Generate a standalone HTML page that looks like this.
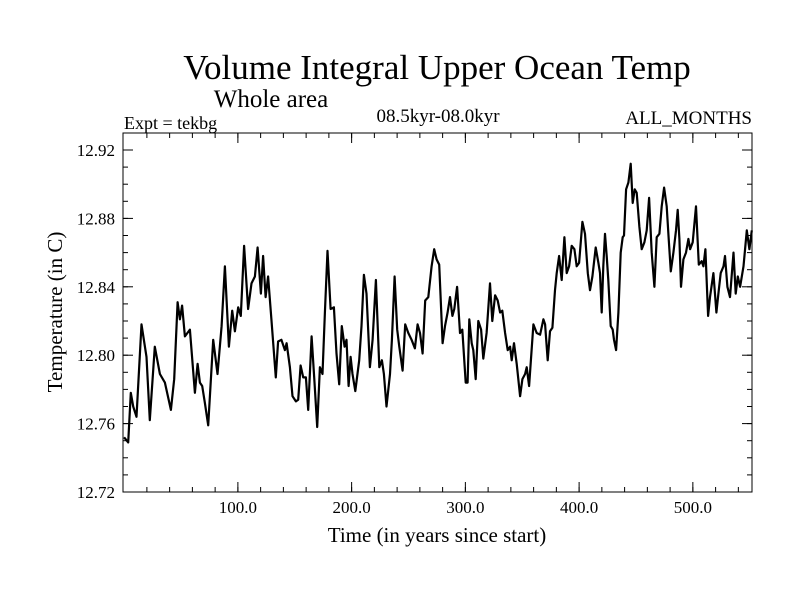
<!DOCTYPE html>
<html><head><meta charset="utf-8"><style>
body{margin:0;background:#fff}
svg{display:block}
text{font-family:"Liberation Serif",serif;fill:#000}
</style></head><body>
<svg id="chart" width="800" height="600">
<text x="437" y="79" font-size="35" text-anchor="middle">Volume Integral Upper Ocean Temp</text>
<text x="271" y="107" font-size="25" text-anchor="middle">Whole area</text>
<text x="124" y="129" font-size="18">Expt = tekbg</text>
<text x="438" y="122" font-size="19" text-anchor="middle">08.5kyr-08.0kyr</text>
<text x="752" y="124" font-size="19" text-anchor="end">ALL_MONTHS</text>
<text x="437" y="542" font-size="21" text-anchor="middle">Time (in years since start)</text>
<text x="0" y="0" font-size="21" text-anchor="middle" transform="translate(62,312) rotate(-90)">Temperature (in C)</text>
<rect x="123" y="133" width="629" height="359" fill="none" stroke="#000" stroke-width="1"/>
<g id="ticks"></g>
<path id="series" fill="none" stroke="#000" stroke-width="2.2" stroke-linejoin="round"/>
</svg>
<script>
const years = [0,3.6,5.9,8,10.9,15.3,19.7,22.6,27,31.4,35.8,41.1,44,47,49,51,53.4,57.8,62.2,64.6,66.6,68.6,71,73.9,78.3,82.1,85.7,88.6,92.1,95,97.4,100.3,102.6,105.5,109,112,115,117.3,120.2,122.2,124.4,126.6,129.5,133.3,135.4,138.3,141.3,
142.8,145.7,148,151,153,155.1,157.4,159.8,161.8,164.8,167.1,169.7,172.1,174.4,176.5,178.8,181.5,184.4,186.7,189.1,191.4,193.8,195.5,197.3,199.1,200.8,203.2,206.7,208.7,210.8,213.1,216.1,218.4,221.3,224.3,226.6,228.4,230.7,233.7,235.4,237.8,240.1,241.9,244.8,247.1,249.8,252.7,255.6,258,260.1,262.4,264.7,267.4,270.3,272.6,274.7,277,280,
282.1,284.4,286.5,288.6,290.3,292.7,295.3,297.3,300.3,302,303.5,305.6,307,309.1,311.4,313.8,315.8,318.7,321.7,323.7,326.1,328.4,330.5,332.5,334.9,337.2,339.3,340.7,342.8,345.1,348.1,350.1,352.5,353.9,356,359.8,362.7,365.7,368.6,370.1,372.4,374.4,376.5,378.8,380.3,382.4,384.7,387.1,389.1,391.2,393.5,395.9,397.9,400,402.9,405.2,407.6,409.6,411.7,414.6,417,
418.4,419.9,421.3,422.8,424.3,425.7,427.8,429.5,430.7,432.5,434.5,436.6,438.3,439.5,441.3,443.3,445.4,447.1,448.9,450.6,453,455,457.4,459.4,461.5,463.8,466.2,468.2,470.6,472.6,474.7,477,478.8,480.6,482.9,485.2,486.7,488.2,489.6,491.7,494,496.1,497.6,499.9,502.8,505.2,507.8,509.3,511,513.4,515.1,518.1,520.7,522.5,524.5,526.9,528.3,530.4,532.7,535.7,537.7,539.5,541.5,544.5,547.4,549.7,551.8];
const temps = [12.752,12.749,12.778,12.770,12.764,12.818,12.799,12.762,12.805,12.789,12.784,12.768,12.786,12.831,12.821,12.829,12.811,12.815,12.778,12.795,12.784,12.782,12.772,12.759,12.809,12.789,12.817,12.852,12.805,12.826,12.814,12.828,12.823,12.864,12.827,12.842,12.846,12.863,12.836,12.858,12.834,12.846,12.821,12.787,12.808,12.809,12.803,
12.807,12.793,12.776,12.773,12.774,12.794,12.787,12.787,12.768,12.811,12.787,12.758,12.793,12.789,12.825,12.861,12.827,12.828,12.801,12.783,12.817,12.805,12.809,12.782,12.799,12.789,12.779,12.797,12.817,12.847,12.836,12.793,12.809,12.844,12.793,12.797,12.789,12.770,12.789,12.809,12.846,12.815,12.805,12.791,12.818,12.813,12.809,12.804,12.818,12.813,12.801,12.832,12.834,12.852,12.862,12.856,12.853,12.807,
12.817,12.825,12.834,12.823,12.827,12.840,12.813,12.815,12.784,12.784,12.821,12.807,12.803,12.786,12.820,12.815,12.798,12.813,12.842,12.820,12.835,12.832,12.825,12.826,12.813,12.803,12.805,12.797,12.807,12.795,12.776,12.786,12.789,12.793,12.782,12.818,12.813,12.812,12.821,12.818,12.797,12.814,12.816,12.838,12.848,12.858,12.844,12.869,12.848,12.852,12.864,12.862,12.852,12.854,12.878,12.871,12.848,12.838,12.846,12.863,12.854,
12.848,12.825,12.852,12.871,12.858,12.844,12.817,12.815,12.809,12.803,12.825,12.860,12.869,12.870,12.897,12.901,12.912,12.889,12.897,12.895,12.875,12.862,12.866,12.873,12.892,12.860,12.840,12.869,12.871,12.887,12.898,12.887,12.868,12.849,12.860,12.873,12.885,12.868,12.840,12.856,12.860,12.868,12.862,12.866,12.887,12.853,12.855,12.852,12.862,12.823,12.834,12.848,12.825,12.836,12.848,12.852,12.858,12.840,12.834,12.860,12.836,12.846,12.840,12.852,12.873,12.862,12.873];
const xTickValues = [100,200,300,400,500];
const xTickLabels = ["100.0","200.0","300.0","400.0","500.0"];
const yTickValues = [12.72,12.76,12.80,12.84,12.88,12.92];
const yTickLabels = ["12.72","12.76","12.80","12.84","12.88","12.92"];

const L=123,R=752,T=133,B=492;
const xMin=-1,xMax=552,yMin=12.72,yMax=12.93;
const yB=492, yPerUnit=1710;
function xs(v){return L+(v-xMin)/(xMax-xMin)*(R-L);}
function ys(v){return yB-(v-yMin)*yPerUnit;}
const NS="http://www.w3.org/2000/svg";
const tg=document.getElementById('ticks');
function line(x1,y1,x2,y2,name){
  const l=document.createElementNS(NS,'line');
  l.setAttribute('x1',x1);l.setAttribute('y1',y1);l.setAttribute('x2',x2);l.setAttribute('y2',y2);
  l.setAttribute('stroke','#000');l.setAttribute('stroke-width','1');
  
  
  tg.appendChild(l);
}
function txt(x,y,s,anchor,name){
  const t=document.createElementNS(NS,'text');
  t.setAttribute('x',x);t.setAttribute('y',y);t.setAttribute('font-size','17');t.setAttribute('text-anchor',anchor);
  t.textContent=s;
  
  
  tg.appendChild(t);
}
for(let v=20;v<xMax;v+=20){const x=xs(v);line(x,B,x,B-5,'x-minor-tick');line(x,T,x,T+5,'x-minor-tick');}
xTickValues.forEach((v,i)=>{const x=xs(v);line(x,B,x,B-10,'x-major-tick');line(x,T,x,T+10,'x-major-tick');txt(x,B+21,xTickLabels[i],'middle','x-tick-label');});
for(let k=1;k<=20;k++){const v=yMin+k*0.01;const y=ys(v);if(y<T)break;line(L,y,L+5,y,'y-minor-tick');line(R,y,R-5,y,'y-minor-tick');}
yTickValues.forEach((v,i)=>{const y=ys(v);line(L,y,L+10,y,'y-major-tick');line(R,y,R-10,y,'y-major-tick');txt(L-8,y+6,yTickLabels[i],'end','y-tick-label');});
let d='';
years.forEach((v,i)=>{d+=(i?'L':'M')+xs(v).toFixed(1)+' '+ys(temps[i]).toFixed(1);});
document.getElementById('series').setAttribute('d',d);
</script>
</body></html>
